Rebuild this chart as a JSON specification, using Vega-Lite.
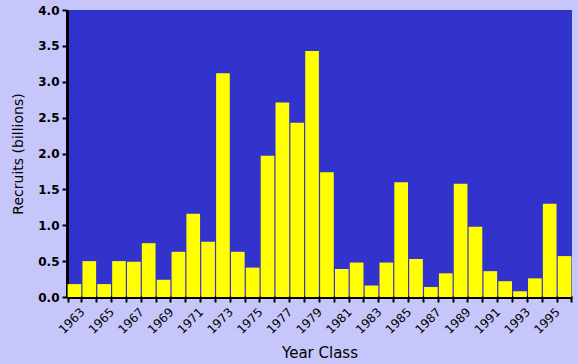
{
  "$schema": "https://vega.github.io/schema/vega-lite/v6.json",
  "autosize": {"type": "none"},
  "width": 505,
  "height": 287,
  "padding": {"left": 67, "top": 10, "right": 6, "bottom": 67},
  "background": "#c6c6fa",
  "config": {
    "view": {"fill": "#3232cc", "stroke": null},
    "axis": {
      "labelFont": "DejaVu Sans",
      "titleFont": "DejaVu Sans",
      "labelColor": "#000000",
      "titleColor": "#000000",
      "domainColor": "#000000",
      "tickColor": "#000000",
      "grid": false
    }
  },
  "data": {
    "values": [
      {"year": "1963", "recruits": 0.18},
      {"year": "1964", "recruits": 0.50},
      {"year": "1965", "recruits": 0.18},
      {"year": "1966", "recruits": 0.50},
      {"year": "1967", "recruits": 0.49},
      {"year": "1968", "recruits": 0.75},
      {"year": "1969", "recruits": 0.24},
      {"year": "1970", "recruits": 0.63},
      {"year": "1971", "recruits": 1.16},
      {"year": "1972", "recruits": 0.77},
      {"year": "1973", "recruits": 3.12},
      {"year": "1974", "recruits": 0.63},
      {"year": "1975", "recruits": 0.41},
      {"year": "1976", "recruits": 1.97},
      {"year": "1977", "recruits": 2.71},
      {"year": "1978", "recruits": 2.43},
      {"year": "1979", "recruits": 3.43},
      {"year": "1980", "recruits": 1.74},
      {"year": "1981", "recruits": 0.39},
      {"year": "1982", "recruits": 0.48},
      {"year": "1983", "recruits": 0.16},
      {"year": "1984", "recruits": 0.48},
      {"year": "1985", "recruits": 1.60},
      {"year": "1986", "recruits": 0.53},
      {"year": "1987", "recruits": 0.14},
      {"year": "1988", "recruits": 0.33},
      {"year": "1989", "recruits": 1.58},
      {"year": "1990", "recruits": 0.98},
      {"year": "1991", "recruits": 0.36},
      {"year": "1992", "recruits": 0.22},
      {"year": "1993", "recruits": 0.08},
      {"year": "1994", "recruits": 0.26},
      {"year": "1995", "recruits": 1.30},
      {"year": "1996", "recruits": 0.57}
    ]
  },
  "mark": {"type": "bar", "color": "#ffff00"},
  "encoding": {
    "x": {
      "field": "year",
      "type": "ordinal",
      "scale": {"paddingInner": 0.08, "paddingOuter": 0.04},
      "axis": {
        "title": "Year Class",
        "titleFontSize": 15,
        "titleFontWeight": "normal",
        "titlePadding": 10,
        "labelAngle": -45,
        "labelFontSize": 12,
        "labelFontWeight": "normal",
        "labelExpr": "parseInt(datum.value) % 2 == 1 ? datum.value : ''",
        "labelOffset": 4,
        "tickBand": "extent",
        "tickSize": 5,
        "tickWidth": 2,
        "domainWidth": 3,
        "labelPadding": 4
      }
    },
    "y": {
      "field": "recruits",
      "type": "quantitative",
      "scale": {"domain": [0, 4]},
      "axis": {
        "title": "Recruits (billions)",
        "titleFontSize": 14,
        "titleFontWeight": "normal",
        "titlePadding": 12,
        "values": [0, 0.5, 1, 1.5, 2, 2.5, 3, 3.5, 4],
        "format": ".1f",
        "labelFontSize": 12,
        "labelFontWeight": "bold",
        "tickSize": 5,
        "tickWidth": 2,
        "domainWidth": 3,
        "labelPadding": 3
      }
    }
  }
}
